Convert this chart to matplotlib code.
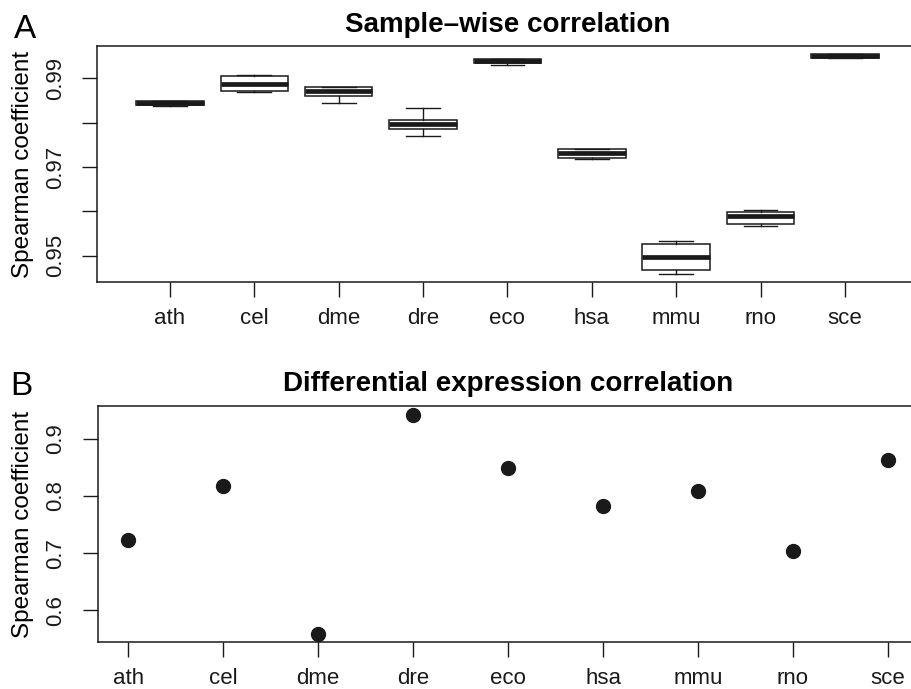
import matplotlib
matplotlib.use('Agg')
import matplotlib.pyplot as plt

# species
species = ['ath', 'cel', 'dme', 'dre', 'eco', 'hsa', 'mmu', 'rno', 'sce']

# sample-wise correlation, box statistics
whislo = [0.98364, 0.98685, 0.98431, 0.97690, 0.99301, 0.97189, 0.94604, 0.95683, 0.99458]
q1     = [0.98393, 0.98717, 0.98596, 0.97847, 0.99330, 0.97211, 0.94694, 0.95712, 0.99458]
med    = [0.98443, 0.98874, 0.98701, 0.97971, 0.99375, 0.97324, 0.94987, 0.95892, 0.99497]
q3     = [0.98492, 0.99054, 0.98798, 0.98065, 0.99420, 0.97398, 0.95279, 0.95982, 0.99533]
whishi = [0.98495, 0.99060, 0.98807, 0.98319, 0.99425, 0.97404, 0.95337, 0.96027, 0.99533]

# differential expression correlation
de_corr = [0.7221, 0.8174, 0.5593, 0.9419, 0.8483, 0.7820, 0.8093, 0.7035, 0.8628]

plt.rcParams['font.family'] = ['Liberation Sans', 'DejaVu Sans']

fig = plt.figure(figsize=(9.12, 6.89), dpi=100)

# 上面的箱线图
ax1 = fig.add_axes([0.1067, 0.5903, 0.8994, 0.3434])
stats = []
for i in range(len(species)):
    stats.append({'med': med[i], 'q1': q1[i], 'q3': q3[i],
                  'whislo': whislo[i], 'whishi': whishi[i], 'fliers': []})
pos = list(range(1, len(species) + 1))
ax1.bxp(stats, positions=pos, widths=0.8, capwidths=0.4, patch_artist=True,
        showfliers=False,
        boxprops=dict(facecolor='white', edgecolor='#1a1a1a', linewidth=1.1),
        medianprops=dict(color='#1a1a1a', linewidth=3.4, solid_capstyle='butt'),
        whiskerprops=dict(color='#1a1a1a', linewidth=1.0),
        capprops=dict(color='#1a1a1a', linewidth=1.0))
ax1.set_xlim(0.14, 9.86)
ax1.set_ylim(0.94407, 0.9973)
ax1.set_xticks(pos)
ax1.set_xticklabels(species)
ax1.set_yticks([0.95, 0.96, 0.97, 0.98, 0.99])
ax1.set_yticklabels(['0.95', '', '0.97', '', '0.99'], rotation=90, va='center')
ax1.set_ylabel('Spearman coefficient', fontsize=17.5)
ax1.set_title('Sample\u2013wise correlation', fontsize=20, fontweight='bold', pad=10)

# 下面的散点图
ax2 = fig.add_axes([0.1071, 0.0678, 0.8999, 0.3429])
ax2.plot(pos, de_corr, 'o', color='#1a1a1a', markersize=10)
ax2.set_xlim(0.68, 9.32)
ax2.set_ylim(0.544, 0.9572)
ax2.set_xticks(pos)
ax2.set_xticklabels(species)
ax2.set_yticks([0.6, 0.7, 0.8, 0.9])
ax2.set_yticklabels(['0.6', '0.7', '0.8', '0.9'], rotation=90, va='center')
ax2.set_ylabel('Spearman coefficient', fontsize=17.5)
ax2.set_title('Differential expression correlation', fontsize=20, fontweight='bold', pad=11)

for ax in (ax1, ax2):
    ax.tick_params(length=10.5, width=1, labelsize=16, colors='#1a1a1a')
    ax.tick_params(axis='x', pad=8)
    ax.tick_params(axis='y', pad=12)
    ax.yaxis.set_label_coords(-0.077, 0.5)
    ax.spines['right'].set_visible(False)
    for s in ax.spines.values():
        s.set_linewidth(1.1)
        s.set_color('#1a1a1a')

fig.text(0.015, 0.945, 'A', fontsize=24)
fig.text(0.011, 0.427, 'B', fontsize=24)

plt.savefig('out.png', dpi=100)
